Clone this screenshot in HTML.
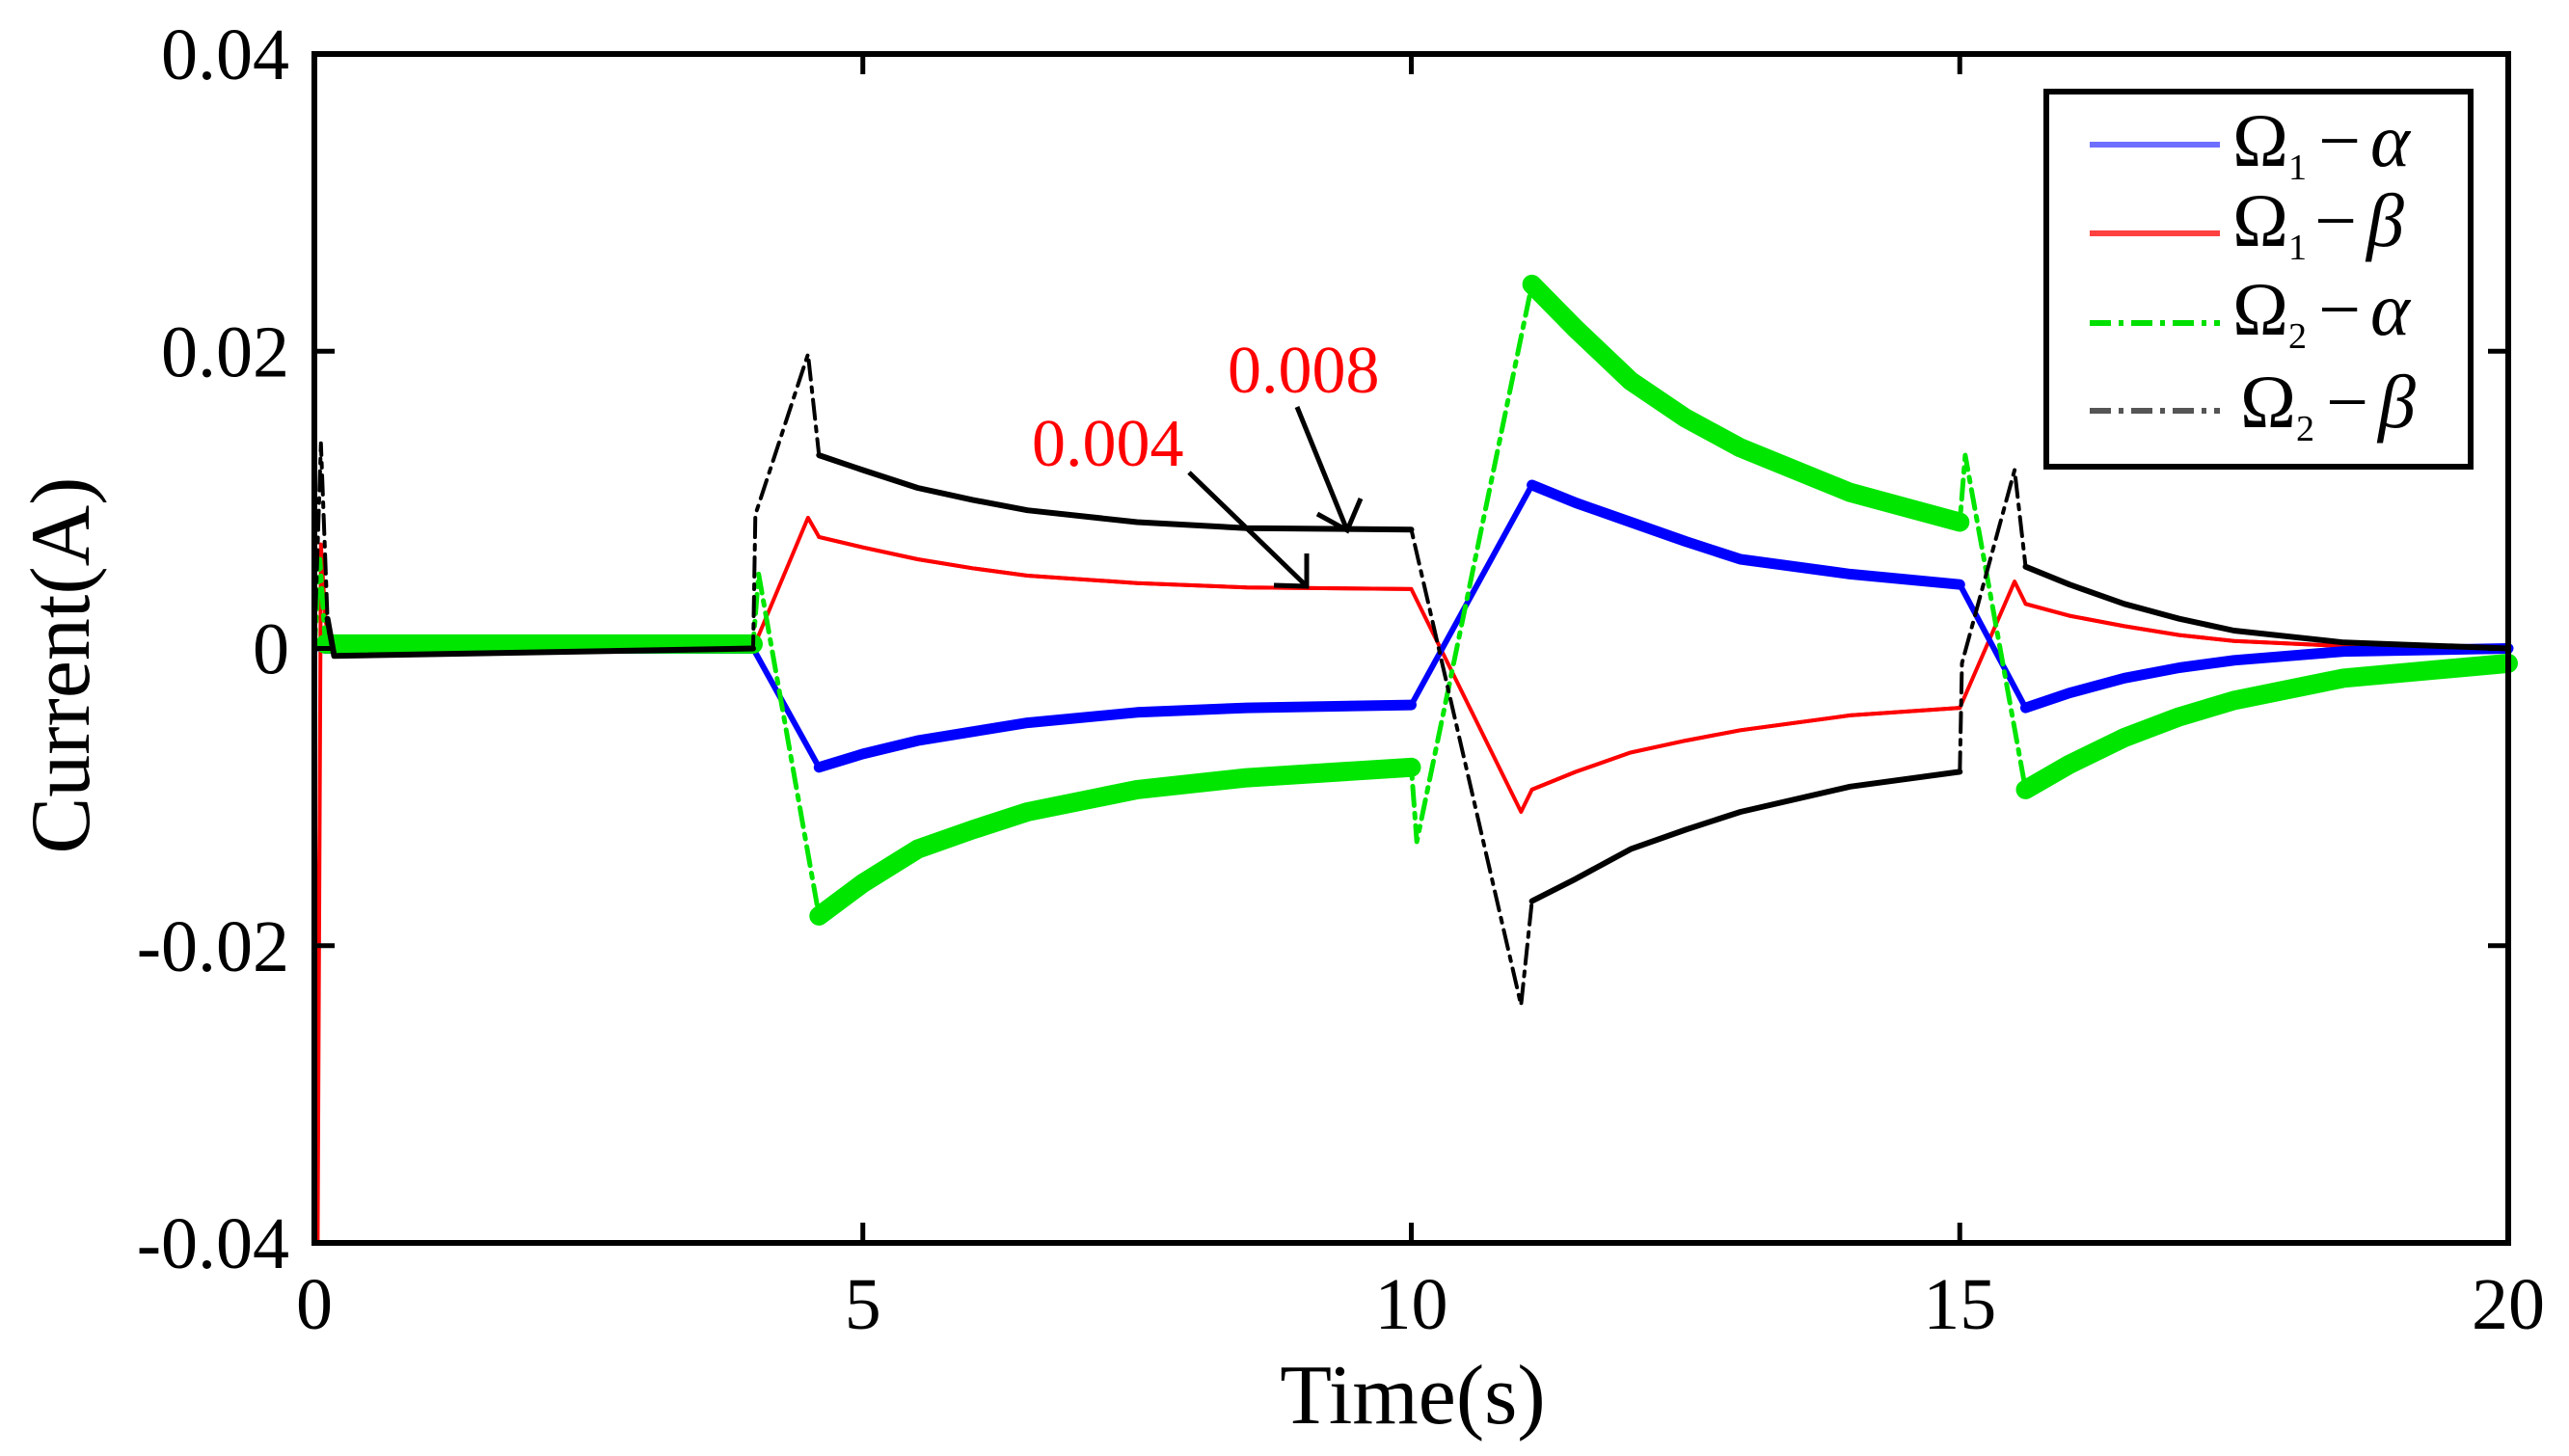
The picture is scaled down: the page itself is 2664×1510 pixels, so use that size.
<!DOCTYPE html>
<html><head><meta charset="utf-8"><style>
html,body{margin:0;padding:0;background:#fff;}
svg{display:block;font-family:"Liberation Serif",serif;}
</style></head><body>
<svg id="chart" width="2664" height="1510" viewBox="0 0 2664 1510" xmlns="http://www.w3.org/2000/svg">
<rect x="0" y="0" width="2664" height="1510" fill="#fff"/>
<g id="series"></g>
<g id="axes"></g>
<g id="annot">
  <text x="1273" y="407" font-size="70" fill="#ff0000">0.008</text>
  <text x="1070" y="483" font-size="70" fill="#ff0000">0.004</text>
  <line x1="1345" y1="422" x2="1397" y2="550" stroke="#000" stroke-width="5"/>
  <polyline points="1366,533 1397,550 1411,517" fill="none" stroke="#000" stroke-width="5"/>
  <line x1="1233" y1="490" x2="1355" y2="608" stroke="#000" stroke-width="5"/>
  <polyline points="1321,607 1355,608 1355,574" fill="none" stroke="#000" stroke-width="5"/>
</g>
<g id="legend">
  <rect x="2122" y="95" width="440" height="389" fill="#fff" stroke="#000" stroke-width="6"/>
  <g>
    <line x1="2167" y1="150" x2="2302" y2="150" stroke="#6f6fff" stroke-width="6"/>
    <text x="2315" y="172" font-size="78">Ω<tspan font-size="38" dy="14">1</tspan><tspan dy="-14" dx="12">−</tspan><tspan font-style="italic" dx="10">α</tspan></text>
  </g>
  <g>
    <line x1="2167" y1="242" x2="2302" y2="242" stroke="#ff4040" stroke-width="6"/>
    <text x="2315" y="255" font-size="78">Ω<tspan font-size="38" dy="14">1</tspan><tspan dy="-14" dx="8">−</tspan><tspan font-style="italic" dx="10">β</tspan></text>
  </g>
  <g>
    <line x1="2167" y1="335" x2="2302" y2="335" stroke="#00e000" stroke-width="6" stroke-dasharray="22 8 5 8"/>
    <text x="2315" y="347" font-size="78">Ω<tspan font-size="38" dy="14">2</tspan><tspan dy="-14" dx="12">−</tspan><tspan font-style="italic" dx="10">α</tspan></text>
  </g>
  <g>
    <line x1="2167" y1="426" x2="2302" y2="426" stroke="#555" stroke-width="6" stroke-dasharray="22 8 5 8"/>
    <text x="2323" y="443" font-size="78">Ω<tspan font-size="38" dy="14">2</tspan><tspan dy="-14" dx="12">−</tspan><tspan font-style="italic" dx="10">β</tspan></text>
  </g>
</g>
</svg>
<script>
const xTicks = [0, 5, 10, 15, 20];
const yTicks = [0.04, 0.02, 0, -0.02, -0.04];
const yTickLabels = ["0.04", "0.02", "0", "-0.02", "-0.04"];
const xTickLabels = ["0", "5", "10", "15", "20"];

const tRed   = [0, 0.03, 0.06, 0.1, 0.15, 4, 4.5, 4.6, 5.0, 5.5, 6.0, 6.5, 7.5, 8.5, 10, 11, 11.1, 11.5, 12, 12.5, 13, 14, 15, 15.5, 15.6, 16.0, 16.5, 17.0, 17.5, 19, 20];
const vRed   = [0, -0.04, 0.007, 0.002, 0, 0, 0.0088, 0.0075, 0.0068, 0.006, 0.0054, 0.0049, 0.0044, 0.0041, 0.004, -0.011, -0.0095, -0.0083, -0.007, -0.0062, -0.0055, -0.0045, -0.004, 0.0045, 0.003, 0.0022, 0.0015, 0.0009, 0.0005, 0, 0];
const tBlack = [0, 0.06, 0.12, 0.18, 4, 4.02, 4.5, 4.6, 5.0, 5.5, 6.0, 6.5, 7.5, 8.5, 10, 11, 11.1, 11.5, 12, 12.5, 13, 14, 15, 15.02, 15.5, 15.6, 16.0, 16.5, 17.0, 17.5, 18.5, 20];
const vBlack = [0, 0.0138, 0.002, -0.0005, 0, 0.009, 0.0198, 0.013, 0.012, 0.0108, 0.01, 0.0093, 0.0085, 0.0081, 0.008, -0.024, -0.017, -0.0155, -0.0135, -0.0122, -0.011, -0.0093, -0.0083, -0.001, 0.012, 0.0055, 0.0043, 0.003, 0.002, 0.0012, 0.0004, 0];
const tBlue  = [0, 0.1, 4, 4.6, 5.0, 5.5, 6.0, 6.5, 7.5, 8.5, 10, 11.1, 11.5, 12, 12.5, 13, 14, 15, 15.6, 16.0, 16.5, 17.0, 17.5, 18.5, 20];
const vBlue  = [0, 0, 0, -0.008, -0.0071, -0.0062, -0.0056, -0.005, -0.0043, -0.004, -0.0038, 0.011, 0.0098, 0.0085, 0.0072, 0.006, 0.005, 0.0043, -0.004, -0.003, -0.002, -0.0013, -0.0008, -0.0002, 0];
const tGreen = [0, 0.05, 0.1, 4, 4.05, 4.6, 5.0, 5.5, 6.0, 6.5, 7.5, 8.5, 10, 10.05, 11.1, 11.5, 12, 12.5, 13, 14, 15, 15.05, 15.6, 16.0, 16.5, 17.0, 17.5, 18.5, 20];
const vGreen = [0, 0.006, 0.0003, 0.0003, 0.005, -0.018, -0.0158, -0.0135, -0.0122, -0.011, -0.0095, -0.0087, -0.008, -0.013, 0.0245, 0.0215, 0.018, 0.0155, 0.0135, 0.0105, 0.0085, 0.013, -0.0095, -0.0078, -0.006, -0.0046, -0.0035, -0.002, -0.001];

const X0 = 326, X1 = 2601, Y0 = 56, Y1 = 1289;
function xs(t){ return X0 + (t - 0) / 20 * (X1 - X0); }
function ys(v){ return Y0 + (0.04 - v) / 0.08 * (Y1 - Y0); }
const NS = "http://www.w3.org/2000/svg";
const seriesG = document.getElementById('series');
const axesG = document.getElementById('axes');
const decayRanges = [[0.1, 4.0], [4.6, 10.0], [11.1, 15.0], [15.6, 20]];

function poly(ts, vs, color, width, dash, name){
  const p = document.createElementNS(NS, 'polyline');
  p.setAttribute('points', ts.map((t,i)=>xs(t).toFixed(1)+','+ys(vs[i]).toFixed(1)).join(' '));
  p.setAttribute('fill','none');
  p.setAttribute('stroke',color);
  p.setAttribute('stroke-width',width);
  p.setAttribute('stroke-linejoin','round');
  p.setAttribute('stroke-linecap','round');
  if (dash) p.setAttribute('stroke-dasharray', dash);
  
  
  seriesG.appendChild(p);
}
function drawSeries(ts, vs, color, thin, thick, dash, name){
  poly(ts, vs, color, thin, dash, name);
  decayRanges.forEach(r=>{
    const idx = ts.map((t,i)=>i).filter(i=>ts[i]>=r[0]-1e-9 && ts[i]<=r[1]+1e-9);
    if (idx.length>1) poly(idx.map(i=>ts[i]), idx.map(i=>vs[i]), color, thick, null, name+'-segment');
  });
}
drawSeries(tRed, vRed, '#ff0000', 4, 4, null, 'series-omega1-beta');
drawSeries(tBlue, vBlue, '#0000ff', 6, 11, null, 'series-omega1-alpha');
drawSeries(tGreen, vGreen, '#00e600', 5, 20, '20 8 5 8', 'series-omega2-alpha');
drawSeries(tBlack, vBlack, '#000000', 4, 6, '20 8 5 8', 'series-omega2-beta');

const frame = document.createElementNS(NS,'rect');
frame.setAttribute('x',X0); frame.setAttribute('y',Y0);
frame.setAttribute('width',X1-X0); frame.setAttribute('height',Y1-Y0);
frame.setAttribute('fill','none'); frame.setAttribute('stroke','#000'); frame.setAttribute('stroke-width','6');


axesG.appendChild(frame);

function line(x1,y1,x2,y2,name){
  const l = document.createElementNS(NS,'line');
  l.setAttribute('x1',x1); l.setAttribute('y1',y1); l.setAttribute('x2',x2); l.setAttribute('y2',y2);
  l.setAttribute('stroke','#000'); l.setAttribute('stroke-width','5');
  
  
  axesG.appendChild(l);
}
function text(x,y,s,anchor,size,name){
  const t = document.createElementNS(NS,'text');
  t.setAttribute('x',x); t.setAttribute('y',y); t.setAttribute('text-anchor',anchor);
  t.setAttribute('font-size',size); t.textContent = s;
  
  
  axesG.appendChild(t);
  return t;
}
xTicks.forEach((t,i)=>{
  line(xs(t),Y1,xs(t),Y1-21,'x-tick');
  line(xs(t),Y0,xs(t),Y0+21,'x-tick-top');
  text(xs(t),1378,xTickLabels[i],'middle',76,'x-tick-label');
});
yTicks.forEach((v,i)=>{
  line(X0,ys(v),X0+21,ys(v),'y-tick');
  line(X1,ys(v),X1-21,ys(v),'y-tick-right');
  text(300,ys(v)+26,yTickLabels[i],'end',76,'y-tick-label');
});
text(1465,1476,'Time(s)','middle',88,'x-axis-title');
const yt = text(0,0,'Current(A)','middle',88,'y-axis-title');
yt.setAttribute('transform','translate(92,690) rotate(-90)');
</script>
</body></html>
